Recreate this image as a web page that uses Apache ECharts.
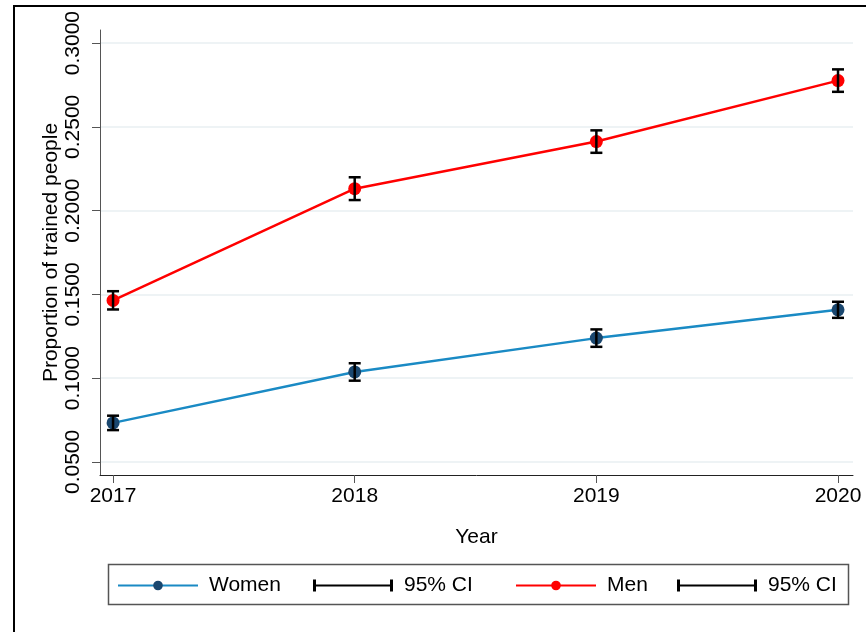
<!DOCTYPE html>
<html>
<head>
<meta charset="utf-8">
<script src="https://cdn.jsdelivr.net/npm/echarts@6/dist/echarts.min.js"></script>
<style>
  html, body { margin: 0; padding: 0; background: #fff; }
  #main { width: 866px; height: 632px; }
</style>
</head>
<body>
<div id="main"></div>
<script>
// data
var years = [2017, 2018, 2019, 2020];
var yTicks = [0.05, 0.10, 0.15, 0.20, 0.25, 0.30];

var women = [0.0733, 0.1037, 0.1239, 0.1408];
var womenLo = [0.0690, 0.0985, 0.1187, 0.1360];
var womenHi = [0.0776, 0.1089, 0.1291, 0.1456];

var men = [0.1464, 0.2131, 0.2412, 0.2776];
var menLo = [0.1410, 0.2063, 0.2345, 0.2709];
var menHi = [0.1519, 0.2199, 0.2479, 0.2843];

var font = 'Liberation Sans, Arial, Helvetica, sans-serif';

function pairs(xs, ys) {
  return xs.map(function (x, i) { return [x, ys[i]]; });
}
function ciData(lo, hi) {
  return years.map(function (x, i) { return [x, lo[i], hi[i]]; });
}
// error bar: vertical line with caps
function renderCI(params, api) {
  var top = api.coord([api.value(0), api.value(2)]);
  var bot = api.coord([api.value(0), api.value(1)]);
  var w = 6;
  var st = { stroke: '#000', lineWidth: 2.5 };
  return {
    type: 'group',
    children: [
      { type: 'line', shape: { x1: top[0], y1: top[1], x2: bot[0], y2: bot[1] }, style: st },
      { type: 'line', shape: { x1: top[0] - w, y1: top[1], x2: top[0] + w, y2: top[1] }, style: st },
      { type: 'line', shape: { x1: bot[0] - w, y1: bot[1], x2: bot[0] + w, y2: bot[1] }, style: st }
    ]
  };
}

var ciIcon = 'path://M0,0h3v5h74v-5h3v12h-3v-5h-74v5h-3z';

// one legend per entry so the spacing can follow the reference
function legendAt(left, name, icon) {
  var item = { name: name };
  if (icon) item.icon = icon;
  return {
    left: left, top: 575, padding: 0,
    itemWidth: 80, itemHeight: 12,
    textStyle: { fontFamily: font, fontSize: 21, color: '#000', padding: [0, 0, 0, 6] },
    data: [item],
    formatter: function (n) { return n.indexOf('ci') === 0 ? '95% CI' : n; }
  };
}

var chart = echarts.init(document.getElementById('main'));
var option = {
  backgroundColor: '#fff',
  animation: false,
  graphic: [
    {
      type: 'polyline',
      shape: { points: [[14, 700], [14, 6], [900, 6]] },
      style: { stroke: '#000', lineWidth: 2, fill: null }
    },
    {
      type: 'rect',
      shape: { x: 108.5, y: 564.5, width: 740, height: 40 },
      style: { stroke: '#555', lineWidth: 1.5, fill: null }
    }
  ],
  grid: { left: 100, right: 13, top: 30, bottom: 157 },
  xAxis: {
    type: 'value',
    min: 2016.946,
    max: 2020.062,
    name: 'Year',
    nameLocation: 'middle',
    nameGap: 52,
    nameMoveOverlap: false,
    nameTextStyle: { fontFamily: font, fontSize: 21, color: '#000' },
    axisLine: { onZero: false, lineStyle: { color: '#222', width: 1 } },
    axisTick: { show: true, length: 8, customValues: years, lineStyle: { color: '#555' } },
    axisLabel: {
      customValues: years, margin: 11,
      fontFamily: font, fontSize: 21, color: '#000',
      formatter: function (v) { return String(v); }
    },
    splitLine: { show: false }
  },
  yAxis: {
    type: 'value',
    min: 0.0422,
    max: 0.3078,
    name: 'Proportion of trained people',
    nameLocation: 'middle',
    nameGap: 38,
    nameRotate: 90,
    nameMoveOverlap: false,
    nameTextStyle: { fontFamily: font, fontSize: 21, color: '#000' },
    axisLine: { show: true, lineStyle: { color: '#555', width: 1 } },
    axisTick: { show: true, length: 8, customValues: yTicks, lineStyle: { color: '#555' } },
    axisLabel: {
      customValues: yTicks, rotate: 90, margin: 16,
      fontFamily: font, fontSize: 21, color: '#000',
      formatter: function (v) { return v.toFixed(4); }
    },
    splitLine: { show: true, lineStyle: { color: '#e8eff2', width: 1.5 } }
  },
  legend: [
    legendAt(117, 'Women'),
    legendAt(313, 'ciW', ciIcon),
    legendAt(515, 'Men'),
    legendAt(677, 'ciM', ciIcon)
  ],
  series: [
    {
      name: 'Women', type: 'line', data: pairs(years, women),
      symbol: 'circle', symbolSize: 13,
      lineStyle: { color: '#1a8ac4', width: 2.5 },
      itemStyle: { color: '#1a476f' }, z: 2
    },
    {
      name: 'ciW', type: 'custom', data: ciData(womenLo, womenHi),
      renderItem: renderCI, itemStyle: { color: '#000' }, z: 3
    },
    {
      name: 'Men', type: 'line', data: pairs(years, men),
      symbol: 'circle', symbolSize: 13,
      lineStyle: { color: '#ff0000', width: 2.5 },
      itemStyle: { color: '#ff0000' }, z: 2
    },
    {
      name: 'ciM', type: 'custom', data: ciData(menLo, menHi),
      renderItem: renderCI, itemStyle: { color: '#000' }, z: 3
    }
  ]
};
chart.setOption(option);
</script>
</body>
</html>
